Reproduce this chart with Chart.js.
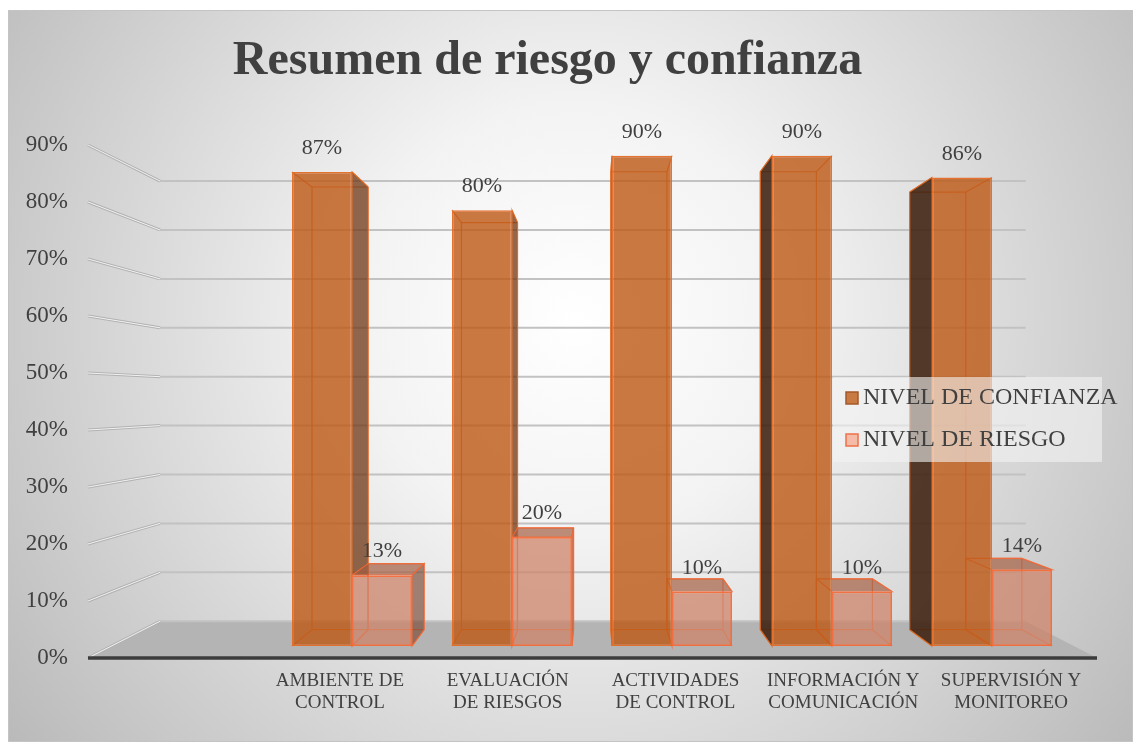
<!DOCTYPE html>
<html>
<head>
<meta charset="utf-8">
<script src="https://cdn.jsdelivr.net/npm/chart.js@4.4.0/dist/chart.umd.min.js"></script>
<style>
  html, body { margin: 0; padding: 0; background: #fff; }
  #wrap { width: 1141px; height: 745px; }
</style>
</head>
<body>
<div id="wrap"><canvas id="bars"></canvas></div>
<script>
// data
const categorias = [
  ['AMBIENTE DE', 'CONTROL'],
  ['EVALUACIÓN', 'DE RIESGOS'],
  ['ACTIVIDADES', 'DE CONTROL'],
  ['INFORMACIÓN Y', 'COMUNICACIÓN'],
  ['SUPERVISIÓN Y', 'MONITOREO']
];
const series = ['NIVEL DE CONFIANZA', 'NIVEL DE RIESGO'];
const nivelConfianza = [0.87, 0.80, 0.90, 0.90, 0.86];
const nivelRiesgo = [0.13, 0.20, 0.10, 0.10, 0.14];

const SERIF = "'Liberation Serif', 'Times New Roman', serif";
const TEXTO = '#404040';

// fake 3D perspective (Excel style)
const VP = { x: 595, y: 399 };   // vanishing point
const WALL = 0.858;               // back wall vs front plane
const DEPTH = 0.934;              // back face of a column vs its front face
const FLOOR = { left: 88, right: 1097 };

function persp(x, y, k) {
  return [VP.x + k * (x - VP.x), VP.y + k * (y - VP.y)];
}
function poly(ctx, pts) {
  ctx.beginPath();
  ctx.moveTo(pts[0][0], pts[0][1]);
  for (let i = 1; i < pts.length; i++) ctx.lineTo(pts[i][0], pts[i][1]);
  ctx.closePath();
}
function line(ctx, a, b) {
  ctx.beginPath();
  ctx.moveTo(a[0], a[1]);
  ctx.lineTo(b[0], b[1]);
  ctx.stroke();
}

const caras = [
  { right: 'rgba(110,55,20,0.75)', left: 'rgba(62,32,14,0.88)', top: 'rgba(150,75,25,0.7)', edge: 'rgba(228,108,38,0.85)' },
  { right: 'rgba(120,70,50,0.65)', left: 'rgba(120,70,50,0.65)', top: 'rgba(165,95,68,0.7)', edge: 'rgba(242,108,58,0.85)' }
];

const fondo = {
  id: 'fondo',
  beforeDraw(chart) {
    const ctx = chart.ctx, w = chart.width, h = chart.height;
    ctx.save();
    ctx.fillStyle = '#ffffff';
    ctx.fillRect(0, 0, w, h);
    const g = ctx.createRadialGradient(575, 320, 0, 575, 320, 720);
    g.addColorStop(0, '#ffffff');
    g.addColorStop(0.3, '#f3f3f3');
    g.addColorStop(1, '#b8b8b8');
    ctx.fillStyle = g;
    ctx.fillRect(8, 10, w - 16, h - 13);
    ctx.strokeStyle = '#c4c4c4';
    ctx.lineWidth = 1;
    ctx.strokeRect(8.5, 10.5, w - 17, h - 14);
    ctx.restore();
  }
};

const escena = {
  id: 'escena',
  beforeDatasetsDraw(chart) {
    const ctx = chart.ctx, yl = chart.scales.yl;
    const y0 = yl.getPixelForValue(0);
    ctx.save();
    // floor
    const fl = persp(FLOOR.left, y0, WALL), fr = persp(FLOOR.right, y0, WALL);
    ctx.fillStyle = '#b4b4b4';
    poly(ctx, [[FLOOR.left, y0], [FLOOR.right, y0], fr, fl]);
    ctx.fill();
    // walls
    yl.ticks.forEach(t => {
      const fy = yl.getPixelForValue(t.value);
      const a = persp(FLOOR.left, fy, WALL), b = persp(FLOOR.right, fy, WALL);
      ctx.strokeStyle = '#b2b2b2';
      ctx.lineWidth = 3;
      line(ctx, [FLOOR.left, fy], a);
      ctx.strokeStyle = '#f2f2f2';
      ctx.lineWidth = 1;
      line(ctx, [FLOOR.left, fy], a);
      ctx.strokeStyle = '#c2c2c2';
      ctx.lineWidth = 2;
      line(ctx, a, [b[0], a[1]]);
    });
    ctx.strokeStyle = '#3c3c3c';
    ctx.lineWidth = 3.5;
    line(ctx, [FLOOR.left, y0], [FLOOR.right, y0]);

    // columns: hidden edges, then sides and tops
    const rects = [];
    chart.data.datasets.forEach((ds, di) => {
      chart.getDatasetMeta(di).data.forEach(bar => {
        const p = bar.getProps(['x', 'y', 'base', 'width'], true);
        rects.push({ di, l: p.x - p.width / 2, r: p.x + p.width / 2, t: p.y, b: p.base });
      });
    });
    rects.forEach(c => {
      const col = caras[c.di];
      const ftl = [c.l, c.t], ftr = [c.r, c.t], fbl = [c.l, c.b], fbr = [c.r, c.b];
      const btl = persp(c.l, c.t, DEPTH), btr = persp(c.r, c.t, DEPTH);
      const bbl = persp(c.l, c.b, DEPTH), bbr = persp(c.r, c.b, DEPTH);
      ctx.strokeStyle = col.edge;
      ctx.lineWidth = 1.2;
      [[btl, btr], [btr, bbr], [bbr, bbl], [bbl, btl], [ftl, btl], [ftr, btr], [fbl, bbl], [fbr, bbr]]
        .forEach(s => line(ctx, s[0], s[1]));
      c.faces = [];
      if (c.r < VP.x) c.faces.push([[ftr, btr, bbr, fbr], col.right]);
      if (c.l > VP.x) c.faces.push([[ftl, btl, bbl, fbl], col.left]);
      if (c.t > VP.y) c.faces.push([[ftl, ftr, btr, btl], col.top]);
    });
    // keep side faces out of the other columns' fronts
    ctx.beginPath();
    ctx.rect(0, 0, chart.width, chart.height);
    rects.forEach(c => ctx.rect(c.l, c.t, c.r - c.l, c.b - c.t));
    ctx.clip('evenodd');
    rects.forEach(c => {
      c.faces.forEach(f => {
        poly(ctx, f[0]);
        ctx.fillStyle = f[1];
        ctx.fill();
        ctx.strokeStyle = caras[c.di].edge;
        ctx.lineWidth = 1.2;
        ctx.stroke();
      });
    });
    ctx.restore();
  },
  afterDatasetsDraw(chart) {
    const ctx = chart.ctx;
    ctx.save();
    ctx.font = '22px ' + SERIF;
    ctx.fillStyle = TEXTO;
    ctx.textAlign = 'center';
    ctx.textBaseline = 'middle';
    chart.data.datasets.forEach((ds, di) => {
      chart.getDatasetMeta(di).data.forEach((bar, i) => {
        ctx.fillText(Math.round(ds.data[i].y * 100) + '%', bar.x, bar.y - 23.5);
      });
    });
    ctx.restore();
  },
  afterDraw(chart) {
    // legend box over the plot
    const ctx = chart.ctx;
    const lx = 846, ly = 398, gap = 42;
    ctx.save();
    ctx.fillStyle = 'rgba(244,244,244,0.6)';
    ctx.fillRect(833, 377, 269, 85);
    ctx.font = '24px ' + SERIF;
    ctx.textBaseline = 'middle';
    ctx.textAlign = 'left';
    chart.data.datasets.forEach((ds, i) => {
      const y = ly + i * gap;
      ctx.fillStyle = ds.legendFill;
      ctx.fillRect(lx, y - 6, 12, 12);
      ctx.strokeStyle = ds.legendBorder;
      ctx.lineWidth = 1.5;
      ctx.strokeRect(lx, y - 6, 12, 12);
      ctx.fillStyle = TEXTO;
      ctx.fillText(ds.label, lx + 17, y);
    });
    ctx.restore();
  }
};

Chart.defaults.font.family = SERIF;

const barConfig = {
  type: 'bar',
  data: {
    labels: categorias,
    datasets: [
      {
        label: series[0],
        data: nivelConfianza.map((v, i) => ({ x: i, y: v })),
        xAxisID: 'xb',
        yAxisID: 'y',
        backgroundColor: 'rgba(190,88,20,0.8)',
        borderColor: 'rgba(228,108,38,0.95)',
        legendFill: '#c97942',
        legendBorder: '#a4582a',
        borderWidth: 1.5,
        borderSkipped: false,
        categoryPercentage: 0.75,
        barPercentage: 1
      },
      {
        label: series[1],
        data: nivelRiesgo.map((v, i) => ({ x: i, y: v })),
        xAxisID: 'xb',
        yAxisID: 'y',
        backgroundColor: 'rgba(206,132,106,0.75)',
        borderColor: 'rgba(242,108,58,0.95)',
        legendFill: '#f4bca8',
        legendBorder: '#ef7048',
        borderWidth: 1.8,
        borderSkipped: false,
        categoryPercentage: 0.75,
        barPercentage: 1
      }
    ]
  },
  options: {
    responsive: true,
    maintainAspectRatio: false,
    animation: false,
    layout: { padding: { left: 0, right: 46, top: 0, bottom: 0 } },
    plugins: {
      legend: { display: false },
      tooltip: { enabled: false },
      title: {
        display: true,
        text: 'Resumen de riesgo y confianza',
        color: TEXTO,
        font: { size: 48, weight: 'bold', lineHeight: 1.2 },
        padding: { top: 33, bottom: 54.4 }
      }
    },
    scales: {
      x: {
        type: 'category',
        axis: 'x',
        position: 'bottom',
        offset: true,
        grid: { display: false, drawTicks: false },
        border: { display: false },
        ticks: { color: TEXTO, font: { size: 19, lineHeight: 1.15 }, padding: 12, maxRotation: 0, autoSkip: false },
        afterFit: s => { s.height = 87; }
      },
      xb: {
        type: 'linear',
        axis: 'x',
        position: 'bottom',
        display: false,
        offset: false,
        min: -0.6,
        max: 4.64375,
        // one tick per category so the bar width follows the category spacing
        afterBuildTicks: s => { s.ticks = categorias.map((c, i) => ({ value: i })); }
      },
      yl: {
        type: 'linear',
        axis: 'y',
        position: 'left',
        min: 0,
        max: 0.9,
        grid: { display: false, drawTicks: false },
        border: { display: false },
        ticks: {
          stepSize: 0.1,
          color: TEXTO,
          font: { size: 23 },
          padding: 188,
          callback: v => Math.round(v * 100) + '%'
        },
        afterFit: s => {
          s.width = 256;
          s.paddingTop = 13;
          s.paddingBottom = 13;
        }
      },
      y: { type: 'linear', axis: 'y', position: 'left', display: false, min: -0.022, max: 0.9196 }
    }
  },
  plugins: [fondo, escena]
};

const barsCtx = document.getElementById('bars');
window.myBar = new Chart(barsCtx, barConfig);
</script>
</body>
</html>
